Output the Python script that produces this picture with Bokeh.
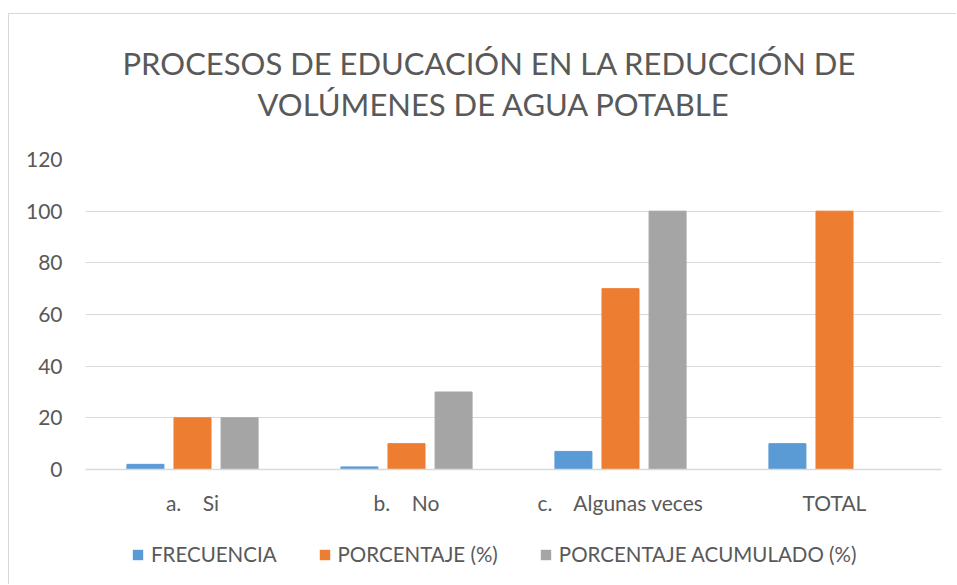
from bokeh.plotting import figure
from bokeh.models import ColumnDataSource, FactorRange, Range1d, FixedTicker, Legend, LegendItem, Title
from bokeh.layouts import column
from bokeh.transform import dodge
from bokeh.embed import file_html
from bokeh.resources import INLINE

categories = ["a.\u00a0\u00a0\u00a0\u00a0Si", "b.\u00a0\u00a0\u00a0\u00a0No", "c.\u00a0\u00a0\u00a0\u00a0Algunas veces", "TOTAL"]
frecuencia = [2, 1, 7, 10]
porcentaje = [20, 10, 70, 100]
acumulado = [20, 30, 100, float("nan")]
series_names = ["FRECUENCIA", "PORCENTAJE (%)", "PORCENTAJE ACUMULADO (%)"]
y_ticks = [0, 20, 40, 60, 80, 100, 120]
title_lines = ["PROCESOS DE EDUCACIÓN EN LA REDUCCIÓN DE", "VOLÚMENES DE AGUA POTABLE"]

FONT = "Lato"
TXT = "#595959"
GRID = "#D9D9D9"
colors = ["#5B9BD5", "#ED7D31", "#A5A5A5"]

source = ColumnDataSource(dict(cat=categories, f=frecuencia, p=porcentaje, a=acumulado))

p = figure(x_range=FactorRange(*categories), y_range=Range1d(0, 120),
           width=947, height=513, output_backend="svg", toolbar_location=None,
           min_border_left=76, min_border_right=15, min_border_top=145, min_border_bottom=58)
p.outline_line_color = None
p.title = None

w = 0.173
off = 0.22
r1 = p.vbar(x=dodge("cat", -off, range=p.x_range), top="f", width=w, source=source, color=colors[0])
r2 = p.vbar(x=dodge("cat", 0.0, range=p.x_range), top="p", width=w, source=source, color=colors[1])
r3 = p.vbar(x=dodge("cat", off, range=p.x_range), top="a", width=w, source=source, color=colors[2])

p.yaxis.ticker = FixedTicker(ticks=y_ticks)
p.yaxis.axis_line_color = None
p.yaxis.major_tick_line_color = None
p.yaxis.minor_tick_line_color = None
p.yaxis.major_label_standoff = 17
p.yaxis.major_label_text_font = FONT
p.yaxis.major_label_text_font_size = "21px"
p.yaxis.major_label_text_color = TXT

p.xaxis.axis_line_color = GRID
p.xaxis.axis_line_width = 1.5
p.xaxis.major_tick_line_color = None
p.xaxis.minor_tick_line_color = None
p.xaxis.major_label_standoff = 14
p.xaxis.major_label_text_font = FONT
p.xaxis.major_label_text_font_size = "21px"
p.xaxis.major_label_text_color = TXT

p.xgrid.grid_line_color = None
p.ygrid.grid_line_color = GRID
p.ygrid.ticker = FixedTicker(ticks=y_ticks)

# title: spacer nearest the frame, then line 2, then line 1 (later = farther up)
p.add_layout(Title(text=" ", text_font=FONT, text_font_size="26px", standoff=2), "above")
p.add_layout(Title(text=title_lines[1], align="left", offset=172, text_font=FONT,
                   text_font_size="31px", text_font_style="normal",
                   text_color=TXT, standoff=1), "above")
p.add_layout(Title(text=title_lines[0], align="left", offset=37, text_font=FONT,
                   text_font_size="31px", text_font_style="normal",
                   text_color=TXT, standoff=1), "above")

# legend strip below the chart; swatch renderers hold one point far outside the view
lg = figure(width=947, height=57, output_backend="svg", toolbar_location=None,
            x_range=Range1d(0, 1), y_range=Range1d(0, 1),
            min_border_left=0, min_border_right=0, min_border_top=0, min_border_bottom=0,
            x_axis_type=None, y_axis_type=None)
lg.outline_line_color = None
lg.grid.visible = False
lg.title = None
sw = [lg.vbar(x=[-10], top=[-5], bottom=[-6], width=0.1, fill_color=c, line_alpha=0) for c in colors]

legend = Legend(items=[LegendItem(label=n, renderers=[r]) for n, r in zip(series_names, sw)],
                orientation="horizontal", location=(46, 18))
legend.label_text_font = FONT
legend.label_text_font_size = "20.5px"
legend.label_text_color = TXT
legend.glyph_width = 13
legend.glyph_height = 13
legend.label_standoff = 7
legend.spacing = 41
legend.border_line_color = None
legend.background_fill_alpha = 0
legend.margin = 0
legend.padding = 0
lg.add_layout(legend, "center")

layout = column(p, lg, spacing=0)
layout.styles = {"border-left": "1px solid #D9D9D9", "border-top": "1px solid #D9D9D9",
                 "margin-top": "13px", "margin-left": "8px"}

open("out.html", "w").write(file_html(layout, INLINE))
